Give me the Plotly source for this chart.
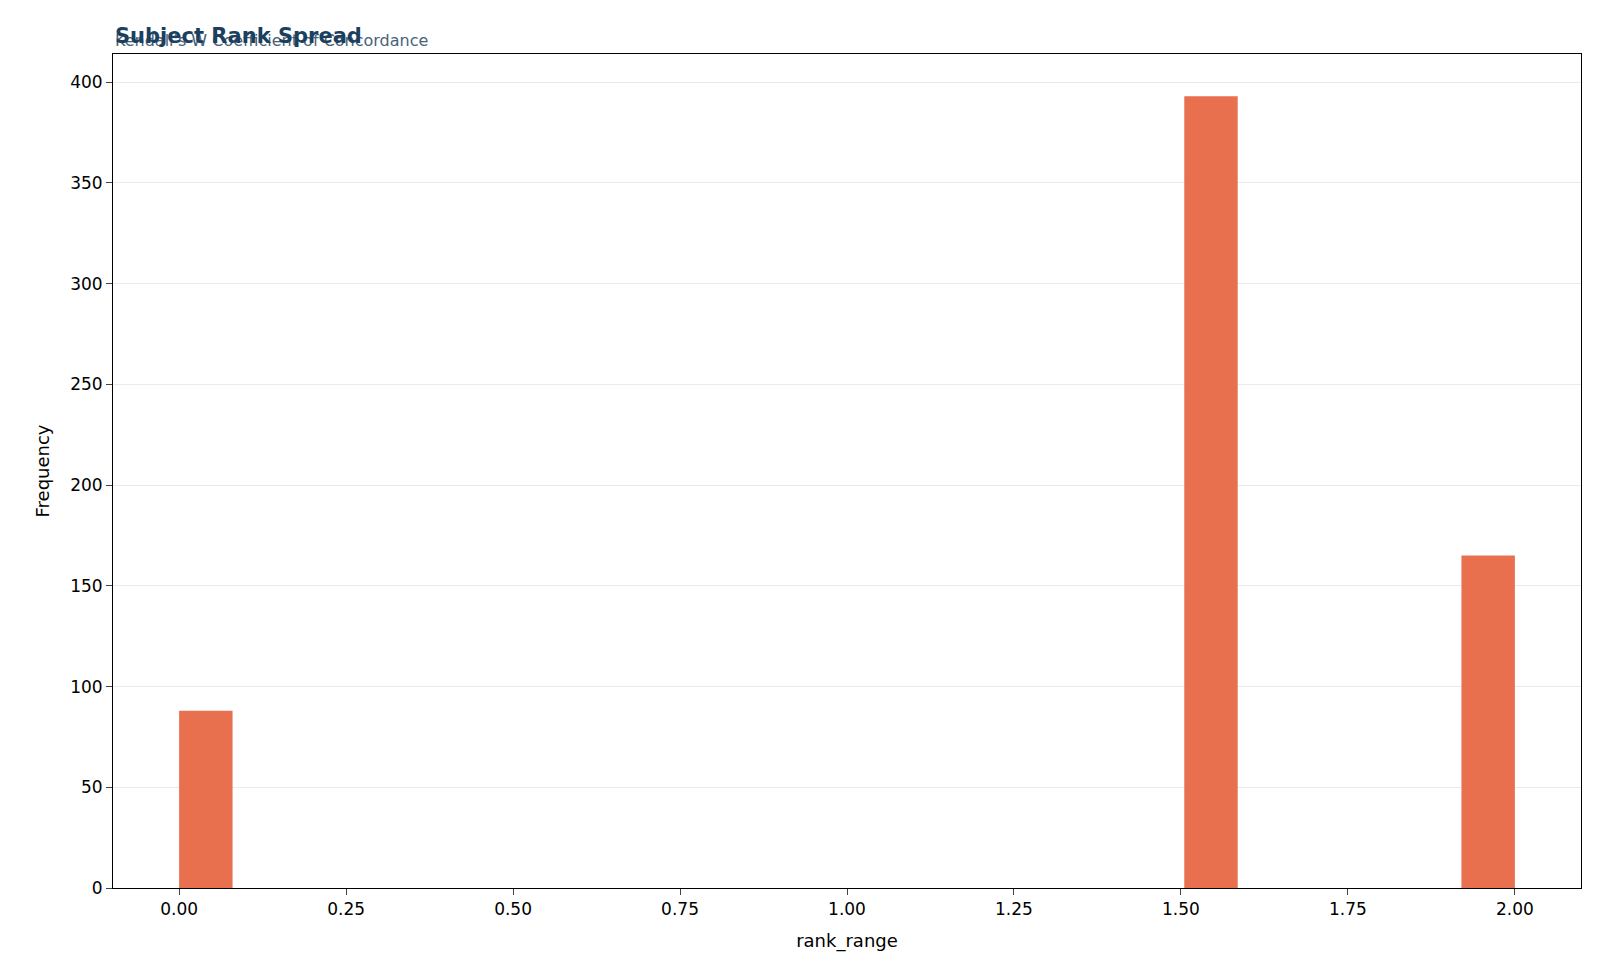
import plotly.graph_objects as go

# histogram of rank_range, 25 bins of width 0.08
bin_left = [0.0, 1.505, 1.92]
counts = [88, 393, 165]
bin_width = 0.08

fig = go.Figure()
fig.add_trace(go.Bar(
    x=bin_left, y=counts, width=[bin_width] * 3, offset=0,
    marker=dict(color="#e8704f", line=dict(width=0)),
))

font = "DejaVu Sans"
fig.update_layout(
    width=1600, height=978,
    margin=dict(l=105, r=27, t=46, b=98),
    plot_bgcolor="white", paper_bgcolor="white",
    font=dict(family=font, size=17, color="black"),
    showlegend=False,
    annotations=[
        dict(text="Kendall's W Coefficient of Concordance", x=0, y=1.0, xref="paper", yref="paper",
             xanchor="left", yanchor="bottom", showarrow=False, yshift=2,
             font=dict(family=font, size=16, color="#4a6278")),
        dict(text="<b>Subject Rank Spread</b>", x=0, y=1.0, xref="paper", yref="paper",
             xanchor="left", yanchor="bottom", showarrow=False, yshift=4,
             font=dict(family=font, size=21, color="#1b3f5e")),
    ],
)
fig.update_xaxes(
    range=[-0.099, 2.099], tickvals=[0, 0.25, 0.5, 0.75, 1, 1.25, 1.5, 1.75, 2],
    tickformat=".2f", ticks="outside", ticklen=6, showgrid=False, zeroline=False,
    showline=True, linecolor="black", mirror=True,
    title=dict(text="rank_range", font=dict(size=18)),
)
fig.update_yaxes(
    range=[0, 414], tickvals=[0, 50, 100, 150, 200, 250, 300, 350, 400],
    ticks="outside", ticklen=6, showgrid=True, gridcolor="#ebebeb", zeroline=False,
    showline=True, linecolor="black", mirror=True,
    title=dict(text="Frequency", font=dict(size=18)),
)

fig.write_html("out.html")
